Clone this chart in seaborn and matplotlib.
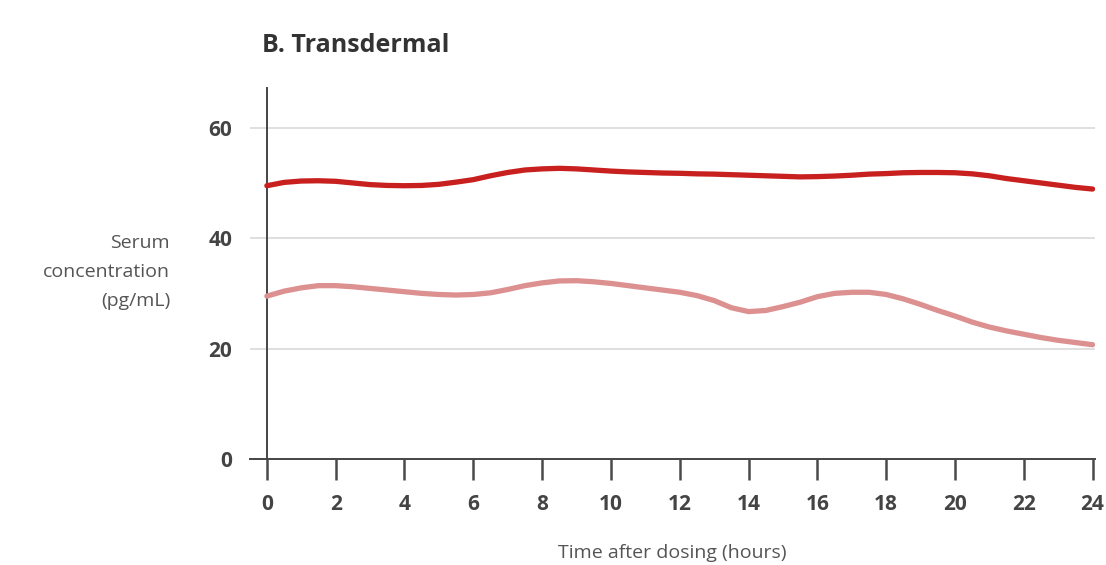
import numpy as np
import pandas as pd
import matplotlib
matplotlib.use("Agg")
import matplotlib.pyplot as plt
import seaborn as sns

# Values (every half hour)
hours = [h / 2 for h in range(0, 49)]
upper_series = [49.5, 50.1, 50.35, 50.4, 50.3, 50.0, 49.7, 49.55, 49.5, 49.55,
                49.75, 50.15, 50.6, 51.3, 51.9, 52.35, 52.55, 52.65, 52.55, 52.35,
                52.15, 52.0, 51.9, 51.8, 51.75, 51.65, 51.6, 51.5, 51.4, 51.3,
                51.2, 51.1, 51.15, 51.25, 51.4, 51.6, 51.7, 51.85, 51.9, 51.9,
                51.85, 51.65, 51.3, 50.8, 50.4, 50.0, 49.6, 49.2, 48.9]
lower_series = [29.5, 30.4, 31.0, 31.4, 31.4, 31.2, 30.9, 30.6, 30.3, 30.0,
                29.8, 29.7, 29.8, 30.1, 30.7, 31.4, 31.9, 32.25, 32.3, 32.1,
                31.8, 31.4, 31.0, 30.6, 30.2, 29.6, 28.7, 27.4, 26.7, 26.9,
                27.6, 28.4, 29.4, 30.0, 30.2, 30.2, 29.8, 29.0, 28.0, 26.9,
                25.9, 24.8, 23.9, 23.2, 22.6, 22.0, 21.5, 21.1, 20.7]
series_names = ["high", "low"]
series_colors = ["#c8201f", "#dc9090"]
x_ticks = list(range(0, 25, 2))
y_ticks = [0, 20, 40, 60]

sns.set_style("white")
plt.rcParams['font.family'] = ['Open Sans', 'DejaVu Sans']

# Long-form table for seaborn
df = pd.DataFrame({
    "hour": hours * 2,
    "conc": upper_series + lower_series,
    "series": [series_names[0]] * len(hours) + [series_names[1]] * len(hours),
})

fig = plt.figure(figsize=(11.06, 5.65), dpi=100)
ax = fig.add_axes([250 / 1106, 106 / 565, 845 / 1106, 371 / 565])

# Gridlines
for v in y_ticks[1:]:
    ax.axhline(v, color="#dcdcdc", lw=1.3, zorder=0)

sns.lineplot(data=df, x="hour", y="conc", hue="series", palette=series_colors,
             linewidth=3.8, legend=False, ax=ax, solid_capstyle="round",
             solid_joinstyle="round", zorder=3)

ax.set_xlim(-0.49, 24.07)
ax.set_ylim(0, 67.2)

ax.spines["top"].set_visible(False)
ax.spines["right"].set_visible(False)
ax.spines["left"].set_position(("data", 0))
for s in ["left", "bottom"]:
    ax.spines[s].set_color("#444444")
    ax.spines[s].set_linewidth(1.4)

# x tick marks hanging below the axis
for t in x_ticks:
    ax.plot([t, t], [-3.8, 0], color="#4a4a4a", linewidth=1.8, clip_on=False,
            solid_capstyle="butt", zorder=5)

ax.set_xticks(x_ticks)
ax.set_xticklabels([str(t) for t in x_ticks])
ax.set_yticks(y_ticks)
ax.set_yticklabels([str(t) for t in y_ticks])
ax.tick_params(axis="x", length=0, pad=25, labelsize=15, labelcolor="#444444")
ax.tick_params(axis="y", length=0, pad=25, labelsize=15, labelcolor="#444444")
for lab in ax.get_xticklabels() + ax.get_yticklabels():
    lab.set_fontweight("bold")

ax.set_xlabel("Time after dosing (hours)", fontsize=14, color="#555555", labelpad=21)
ax.set_ylabel("")
fig.text(170 / 1106, 1 - 272 / 565, "Serum\nconcentration\n(pg/mL)", ha="right", va="center",
         fontsize=14, color="#555555", linespacing=1.75)

fig.text(262 / 1106, 1 - 46 / 565, "B. Transdermal", ha="left", va="center",
         fontsize=18, fontweight="bold", color="#333333")

fig.savefig("out.png", dpi=100)
